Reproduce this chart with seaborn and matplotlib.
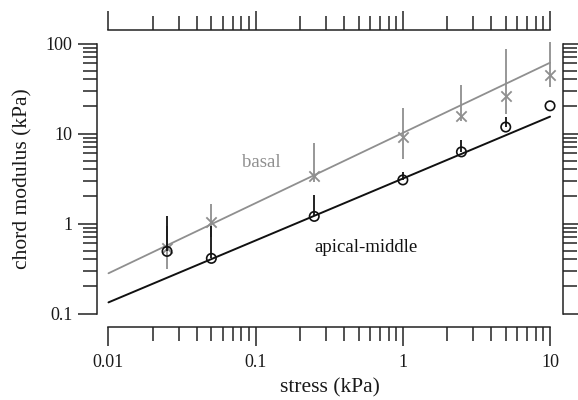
import numpy as np
import pandas as pd
import matplotlib
matplotlib.use("Agg")
import matplotlib.pyplot as plt
from matplotlib.ticker import FixedLocator, FixedFormatter, NullFormatter
import seaborn as sns

# Stress levels (kPa)
stress = [0.025, 0.05, 0.25, 1.0, 2.5, 5.0, 10.0]

# Apical-middle chord modulus (kPa) with upper error limit
apical = [0.49, 0.41, 1.2, 3.05, 6.25, 11.8, 20.3]
apical_hi = [1.21, 0.94, 2.1, 3.69, 8.5, 15.1, 20.3]

# Basal chord modulus (kPa) with lower/upper error limits
basal = [0.54, 1.03, 3.38, 9.1, 15.7, 25.8, 44.5]
basal_lo = [0.31, 0.70, 2.86, 5.2, 13.8, 16.4, 33.0]
basal_hi = [0.95, 1.64, 7.94, 19.4, 34.4, 87.9, 105.0]

# Power-law fit lines, evaluated at the ends of the stress range
fit_stress = [0.01, 10.0]
apical_fit = [0.133, 15.4]
basal_fit = [0.28, 61.2]

# Axis ticks
x_ticks = [0.01, 0.1, 1, 10]
x_tick_labels = ["0.01", "0.1", "1", "10"]
y_ticks = [0.1, 1, 10, 100]
y_tick_labels = ["0.1", "1", "10", "100"]

GRAY = "#8f8f8f"
INK = "#111111"

sns.set_theme(style="ticks")
plt.rcParams["font.family"] = ["Liberation Serif", "DejaVu Serif"]
plt.rcParams["axes.linewidth"] = 1.1

fig = plt.figure(figsize=(5.78, 4.0), dpi=100)
ax = fig.add_axes([97 / 578, 1 - 327.3 / 400, (563 - 97) / 578, (327.3 - 30) / 400])

pts = pd.DataFrame({"stress": stress, "apical": apical, "basal": basal})
fits = pd.DataFrame({"stress": fit_stress, "apical": apical_fit, "basal": basal_fit})

# basal series (gray)
sns.lineplot(data=fits, x="stress", y="basal", color=GRAY, lw=1.3, ax=ax)
ax.vlines(stress, basal_lo, basal_hi, color=GRAY, lw=1.3, zorder=2)
sns.scatterplot(data=pts, x="stress", y="basal", marker="x", s=55,
                color=GRAY, linewidth=1.3, ax=ax, zorder=3)

# apical-middle series (black)
sns.lineplot(data=fits, x="stress", y="apical", color=INK, lw=1.4, ax=ax)
ax.vlines(stress, apical, apical_hi, color=INK, lw=1.3, zorder=4)
sns.scatterplot(data=pts, x="stress", y="apical", marker="o", s=46,
                facecolor="none", edgecolor=INK, linewidth=1.2, ax=ax, zorder=5)

ax.set_xscale("log")
ax.set_yscale("log")
ax.set_xlim(10 ** -2.078, 10 ** 1.088)
ax.set_ylim(10 ** -1.153, 10 ** 2.15)

# detached R-style axes
ax.spines["bottom"].set_bounds(x_ticks[0], x_ticks[-1])
ax.spines["top"].set_bounds(x_ticks[0], x_ticks[-1])
ax.spines["left"].set_bounds(y_ticks[0], y_ticks[-1])
ax.spines["right"].set_bounds(y_ticks[0], y_ticks[-1])
for sp in ax.spines.values():
    sp.set_visible(True)
    sp.set_color("#222222")

x_minor = [m * d for d in x_ticks[:-1] for m in range(2, 10)]
y_minor = [m * d for d in y_ticks[:-1] for m in range(2, 10)]
ax.xaxis.set_major_locator(FixedLocator(x_ticks))
ax.xaxis.set_major_formatter(FixedFormatter(x_tick_labels))
ax.xaxis.set_minor_locator(FixedLocator(x_minor))
ax.xaxis.set_minor_formatter(NullFormatter())
ax.yaxis.set_major_locator(FixedLocator(y_ticks))
ax.yaxis.set_major_formatter(FixedFormatter(y_tick_labels))
ax.yaxis.set_minor_locator(FixedLocator(y_minor))
ax.yaxis.set_minor_formatter(NullFormatter())

ax.tick_params(which="both", direction="out", top=True, right=True,
               labeltop=False, labelright=False, color="#222222", width=1.1)
ax.tick_params(which="major", length=13.5, labelsize=13, labelcolor="#1a1a1a")
ax.tick_params(which="minor", length=10)
ax.tick_params(axis="x", which="major", pad=6)
ax.tick_params(axis="y", which="major", pad=4)

ax.set_xlabel("stress (kPa)", fontsize=15.5, color="#1a1a1a", va="center")
ax.set_ylabel("chord modulus (kPa)", fontsize=15.5, color="#1a1a1a", va="center")
ax.xaxis.set_label_coords(0.5, -0.204)
ax.yaxis.set_label_coords(-0.16, 0.5)

ax.text(0.1087, 4.76, "basal", color=GRAY, fontsize=13.5, ha="center", va="center")
ax.text(0.566, 0.541, "apical-middle", color=INK, fontsize=13.5, ha="center", va="center")

fig.savefig("out.png", dpi=100)
